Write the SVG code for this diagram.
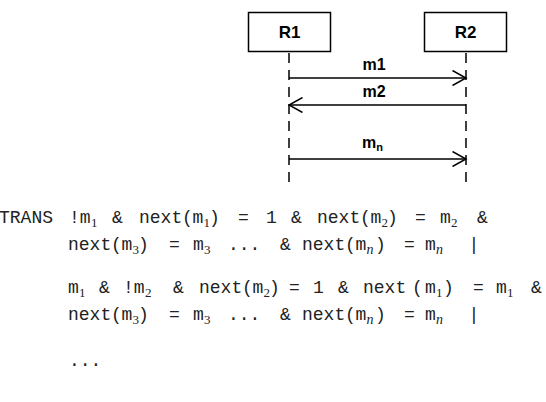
<svg xmlns="http://www.w3.org/2000/svg" width="546" height="402" viewBox="0 0 546 402">
<style>
.box{fill:#fff;stroke:#000;stroke-width:1.5}
.hd{font-family:"Liberation Sans",Arial,sans-serif;font-weight:bold;font-size:17px;text-anchor:middle;fill:#000}
.lbl{font-family:"Liberation Sans",Arial,sans-serif;font-weight:bold;font-size:16px;fill:#000}
.life{stroke:#000;stroke-width:1.5;stroke-dasharray:10 7;fill:none}
.msg{stroke:#000;stroke-width:1.5;fill:none}
.t{font-family:"Liberation Mono","Courier New",monospace;font-size:18px;fill:#222}
.s{font-family:"Liberation Serif","Times New Roman",serif;font-size:13px;fill:#222}
.si{font-family:"Liberation Serif","Times New Roman",serif;font-size:14px;font-style:italic;fill:#222}
</style>
<defs>
<marker id="open" viewBox="0 0 16 16" refX="14.5" refY="8" markerWidth="16" markerHeight="16" markerUnits="userSpaceOnUse" orient="auto">
<path d="M1,0.5 L14.5,8 L1,15.5" fill="none" stroke="#000" stroke-width="1.5"/>
</marker>
</defs>
<g id="R1">
<rect class="box" x="248.5" y="12.5" width="82" height="39"/>
<text class="hd" x="289.5" y="38">R1</text>
</g>
<g id="R2">
<rect class="box" x="424.5" y="12.5" width="82" height="39"/>
<text class="hd" x="465.5" y="38">R2</text>
</g>
<g id="connectors">
<line class="life" x1="289" y1="53" x2="289" y2="186"/>
<line class="life" x1="466" y1="53" x2="466" y2="186"/>
<line class="msg" x1="289" y1="78" x2="466" y2="78" marker-end="url(#open)"/>
<line class="msg" x1="466" y1="105" x2="289" y2="105" marker-end="url(#open)"/>
<line class="msg" x1="289" y1="159" x2="466" y2="159" marker-end="url(#open)"/>
<text class="lbl" x="374" y="70" text-anchor="middle">m1</text>
<text class="lbl" x="374" y="97" text-anchor="middle">m2</text>
<text class="lbl" x="362" y="148">m<tspan font-size="11" dy="3">n</tspan></text>
</g>
<g id="trans">
<!-- line 1 -->
<text class="t" x="-1" y="223">TRANS</text>
<text class="t" x="69" y="223">!m</text><text class="s" x="91" y="227">1</text>
<text class="t" x="112" y="223">&amp;</text>
<text class="t" x="139" y="223">next</text>
<text class="t" x="182" y="223">(</text>
<text class="t" x="192.5" y="223">m</text><text class="s" x="203.5" y="227">1</text>
<text class="t" x="209" y="223">)</text>
<text class="t" x="238" y="223">=</text>
<text class="t" x="266" y="223">1</text>
<text class="t" x="291" y="223">&amp;</text>
<text class="t" x="317" y="223">next</text>
<text class="t" x="360" y="223">(</text>
<text class="t" x="370.5" y="223">m</text><text class="s" x="381.5" y="227">2</text>
<text class="t" x="387" y="223">)</text>
<text class="t" x="415" y="223">=</text>
<text class="t" x="440" y="223">m</text><text class="s" x="451" y="227">2</text>
<text class="t" x="477" y="223">&amp;</text>
<!-- line 2 -->
<text class="t" x="68" y="250">next</text>
<text class="t" x="111" y="250">(</text>
<text class="t" x="121.5" y="250">m</text><text class="s" x="132.5" y="254">3</text>
<text class="t" x="138" y="250">)</text>
<text class="t" x="169" y="250">=</text>
<text class="t" x="193" y="250">m</text><text class="s" x="204" y="254">3</text>
<text class="t" x="228" y="250">...</text>
<text class="t" x="280" y="250">&amp;</text>
<text class="t" x="302" y="250">next</text>
<text class="t" x="345" y="250">(</text>
<text class="t" x="355.5" y="250">m</text><text class="si" x="366.5" y="254">n</text>
<text class="t" x="375" y="250">)</text>
<text class="t" x="404" y="250">=</text>
<text class="t" x="425" y="250">m</text><text class="si" x="436" y="254">n</text>
<text class="t" x="468.5" y="250">|</text>
<!-- line 3 -->
<text class="t" x="68" y="293">m</text><text class="s" x="79" y="297">1</text>
<text class="t" x="99" y="293">&amp;</text>
<text class="t" x="123" y="293">!m</text><text class="s" x="145" y="297">2</text>
<text class="t" x="173" y="293">&amp;</text>
<text class="t" x="199" y="293">next</text>
<text class="t" x="242" y="293">(</text>
<text class="t" x="252.5" y="293">m</text><text class="s" x="263.5" y="297">2</text>
<text class="t" x="269" y="293">)</text>
<text class="t" x="289" y="293">=</text>
<text class="t" x="313" y="293">1</text>
<text class="t" x="338" y="293">&amp;</text>
<text class="t" x="363" y="293">next</text>
<text class="t" x="412" y="293">(</text>
<text class="t" x="425" y="293">m</text><text class="s" x="436" y="297">1</text>
<text class="t" x="443" y="293">)</text>
<text class="t" x="473" y="293">=</text>
<text class="t" x="496" y="293">m</text><text class="s" x="507" y="297">1</text>
<text class="t" x="531" y="293">&amp;</text>
<!-- line 4 -->
<text class="t" x="68" y="320">next</text>
<text class="t" x="111" y="320">(</text>
<text class="t" x="121.5" y="320">m</text><text class="s" x="132.5" y="324">3</text>
<text class="t" x="138" y="320">)</text>
<text class="t" x="169" y="320">=</text>
<text class="t" x="193" y="320">m</text><text class="s" x="204" y="324">3</text>
<text class="t" x="228" y="320">...</text>
<text class="t" x="280" y="320">&amp;</text>
<text class="t" x="302" y="320">next</text>
<text class="t" x="345" y="320">(</text>
<text class="t" x="355.5" y="320">m</text><text class="si" x="366.5" y="324">n</text>
<text class="t" x="375" y="320">)</text>
<text class="t" x="404" y="320">=</text>
<text class="t" x="425" y="320">m</text><text class="si" x="436" y="324">n</text>
<text class="t" x="468.5" y="320">|</text>
<!-- line 5 -->
<text class="t" x="69" y="366">...</text>
</g>
</svg>
